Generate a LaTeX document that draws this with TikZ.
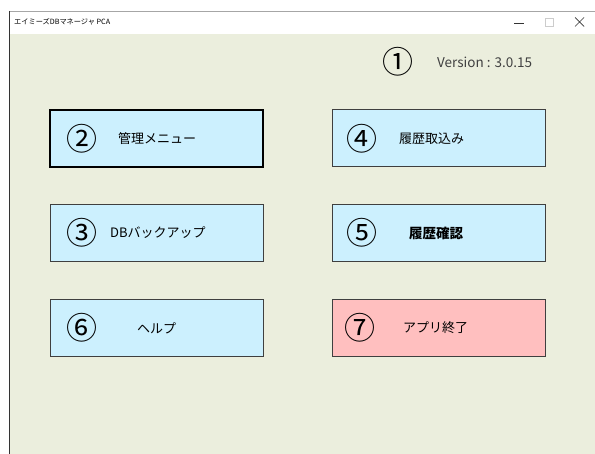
\documentclass[tikz,border=0pt]{standalone}
\usepackage{fontspec}
\setmainfont{Noto Sans CJK JP}
\newfontfamily\cjk{Noto Sans CJK JP}
\definecolor{winbg}{HTML}{EBEEDD}
\definecolor{btnblue}{HTML}{CCF0FE}
\definecolor{btnpink}{HTML}{FFBFBF}
\definecolor{btnedge}{HTML}{3F3F3F}
\definecolor{txtgray}{HTML}{404040}
\tikzset{
  btn/.style={draw=btnedge, line width=1pt, fill=btnblue, minimum width=213pt, minimum height=57pt, inner sep=0pt},
  circnum/.style={inner sep=0pt, font=\cjk\fontsize{31}{31}\selectfont},
  lbl/.style={inner sep=0pt, font=\cjk\fontsize{13}{13}\selectfont, text=black},
}
\begin{document}
\begin{tikzpicture}[x=1pt,y=-1pt]
\useasboundingbox (0,0) rectangle (595,454);
\fill[white] (0,0) rectangle (595,454);
% window
\fill[winbg] (9,34) rectangle (595,454);
\draw[gray!70, line width=0.8pt] (9,11) -- (595,11);
\draw[black!80, line width=0.8pt] (9,11) -- (9,454);
\node[anchor=west, inner sep=0pt, font=\cjk\fontsize{7.2}{7.2}\selectfont] (title) at (14,22) {エイミーズDBマネージャ PCA};
\coordinate (minA) at (514,23); \coordinate (minB) at (524,23);
\draw[black!80, line width=0.7pt] (minA) -- (minB);
\node[draw=gray!40, line width=0.6pt, minimum size=8pt, inner sep=0pt] (maxi) at (549,22) {};
\coordinate (xa) at (575,17.5); \coordinate (xb) at (584,26.5);
\coordinate (xc) at (575,26.5); \coordinate (xd) at (584,17.5);
\draw[black!80, line width=0.7pt] (xa) -- (xb) (xc) -- (xd);
% version
\node[circnum] (c1) at (398,62) {①};
\node[anchor=west, inner sep=0pt, font=\cjk\fontsize{13.5}{13.5}\selectfont, text=txtgray] (ver) at (437,62) {Version : 3.0.15};
% buttons
\node[btn, draw=black, line width=1.8pt] (b2) at (156.5,138.5) {};
\node[btn] (b4) at (439,138.5) {};
\node[btn] (b3) at (157,233.5) {};
\node[btn] (b5) at (439,233.5) {};
\node[btn] (b6) at (157,328.5) {};
\node[btn, fill=btnpink] (b7) at (439,328.5) {};
% numbers
\node[circnum] (c2) at (82,139) {②};
\node[circnum] (c4) at (362,139) {④};
\node[circnum] (c3) at (82,233) {③};
\node[circnum] (c5) at (362,233) {⑤};
\node[circnum] (c6) at (82,328) {⑥};
\node[circnum] (c7) at (360,328) {⑦};
% labels
\node[lbl, anchor=west] (t2) at (118,139) {管理メニュー};
\node[lbl, anchor=west] (t4) at (399,139) {履歴取込み};
\node[lbl, anchor=west] (t3) at (110,233) {DBバックアップ};
\node[lbl, anchor=west, font=\cjk\bfseries\fontsize{13.5}{13.5}\selectfont] (t5) at (409,233) {履歴確認};
\node[lbl, anchor=west] (t6) at (137,328) {ヘルプ};
\node[lbl, anchor=west] (t7) at (403,328) {アプリ終了};
\end{tikzpicture}
\end{document}
